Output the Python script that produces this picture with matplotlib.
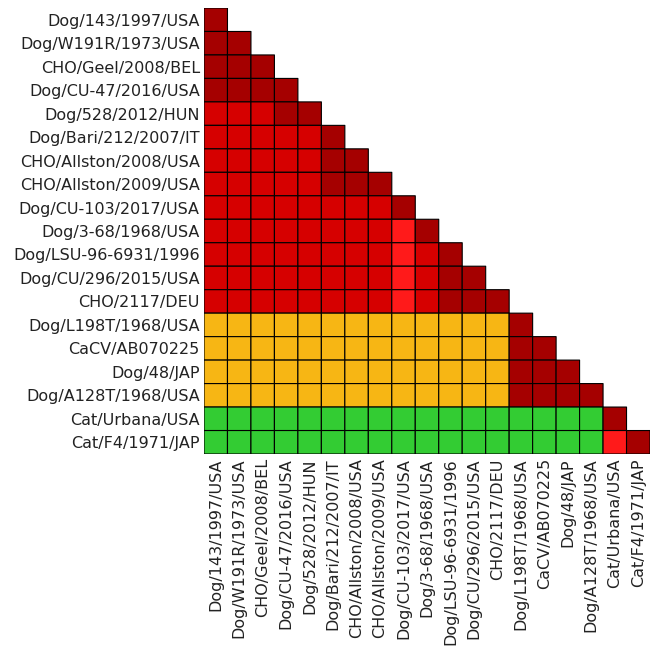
import matplotlib.pyplot as plt
import numpy as np
from matplotlib.colors import ListedColormap, BoundaryNorm

labels = ["Dog/143/1997/USA", "Dog/W191R/1973/USA", "CHO/Geel/2008/BEL",
          "Dog/CU-47/2016/USA", "Dog/528/2012/HUN", "Dog/Bari/212/2007/IT",
          "CHO/Allston/2008/USA", "CHO/Allston/2009/USA", "Dog/CU-103/2017/USA",
          "Dog/3-68/1968/USA", "Dog/LSU-96-6931/1996", "Dog/CU/296/2015/USA",
          "CHO/2117/DEU", "Dog/L198T/1968/USA", "CaCV/AB070225", "Dog/48/JAP",
          "Dog/A128T/1968/USA", "Cat/Urbana/USA", "Cat/F4/1971/JAP"]

# similarity class of each cell, lower triangle, row by row
# D = highest, R = high, B = mid, O = low, G = lowest
rows = ["D",
        "DD",
        "DDD",
        "DDDD",
        "RRRDD",
        "RRRRRD",
        "RRRRRDD",
        "RRRRRDDD",
        "RRRRRRRRD",
        "RRRRRRRRBD",
        "RRRRRRRRBRD",
        "RRRRRRRRBRDD",
        "RRRRRRRRBRDDD",
        "OOOOOOOOOOOOOD",
        "OOOOOOOOOOOOODD",
        "OOOOOOOOOOOOODDD",
        "OOOOOOOOOOOOODDDD",
        "GGGGGGGGGGGGGGGGGD",
        "GGGGGGGGGGGGGGGGGBD"]

classes = ["G", "O", "B", "R", "D"]
colors = ["#33cc33", "#f7b614", "#ff1a1a", "#d60000", "#a50000"]

n = len(labels)
M = np.full((n, n), np.nan)
for i, r in enumerate(rows):
    for j, c in enumerate(r):
        M[i, j] = classes.index(c)
M = np.ma.masked_invalid(M)

cmap = ListedColormap(colors)
norm = BoundaryNorm(np.arange(-0.5, len(classes)), cmap.N)

fig = plt.figure(figsize=(6.57, 6.46), dpi=100)
ax = fig.add_axes([204/657, 192/646, 446/657, 446/646])
# pcolor skips masked cells, so the upper triangle stays empty
ax.pcolor(np.arange(n+1), np.arange(n+1), M, cmap=cmap, norm=norm,
          edgecolors="black", linewidth=0.8)
ax.set_xlim(0, n)
ax.set_ylim(n, 0)
ax.set_xticks(np.arange(n) + 0.5)
ax.set_yticks(np.arange(n) + 0.5)
ax.set_xticklabels(labels, rotation=90, fontsize=11.5, color="#222222")
ax.set_yticklabels(labels, fontsize=11.5, color="#222222")
ax.tick_params(length=0, pad=3)
for s in ax.spines.values():
    s.set_visible(False)

fig.savefig("out.png", dpi=100)
